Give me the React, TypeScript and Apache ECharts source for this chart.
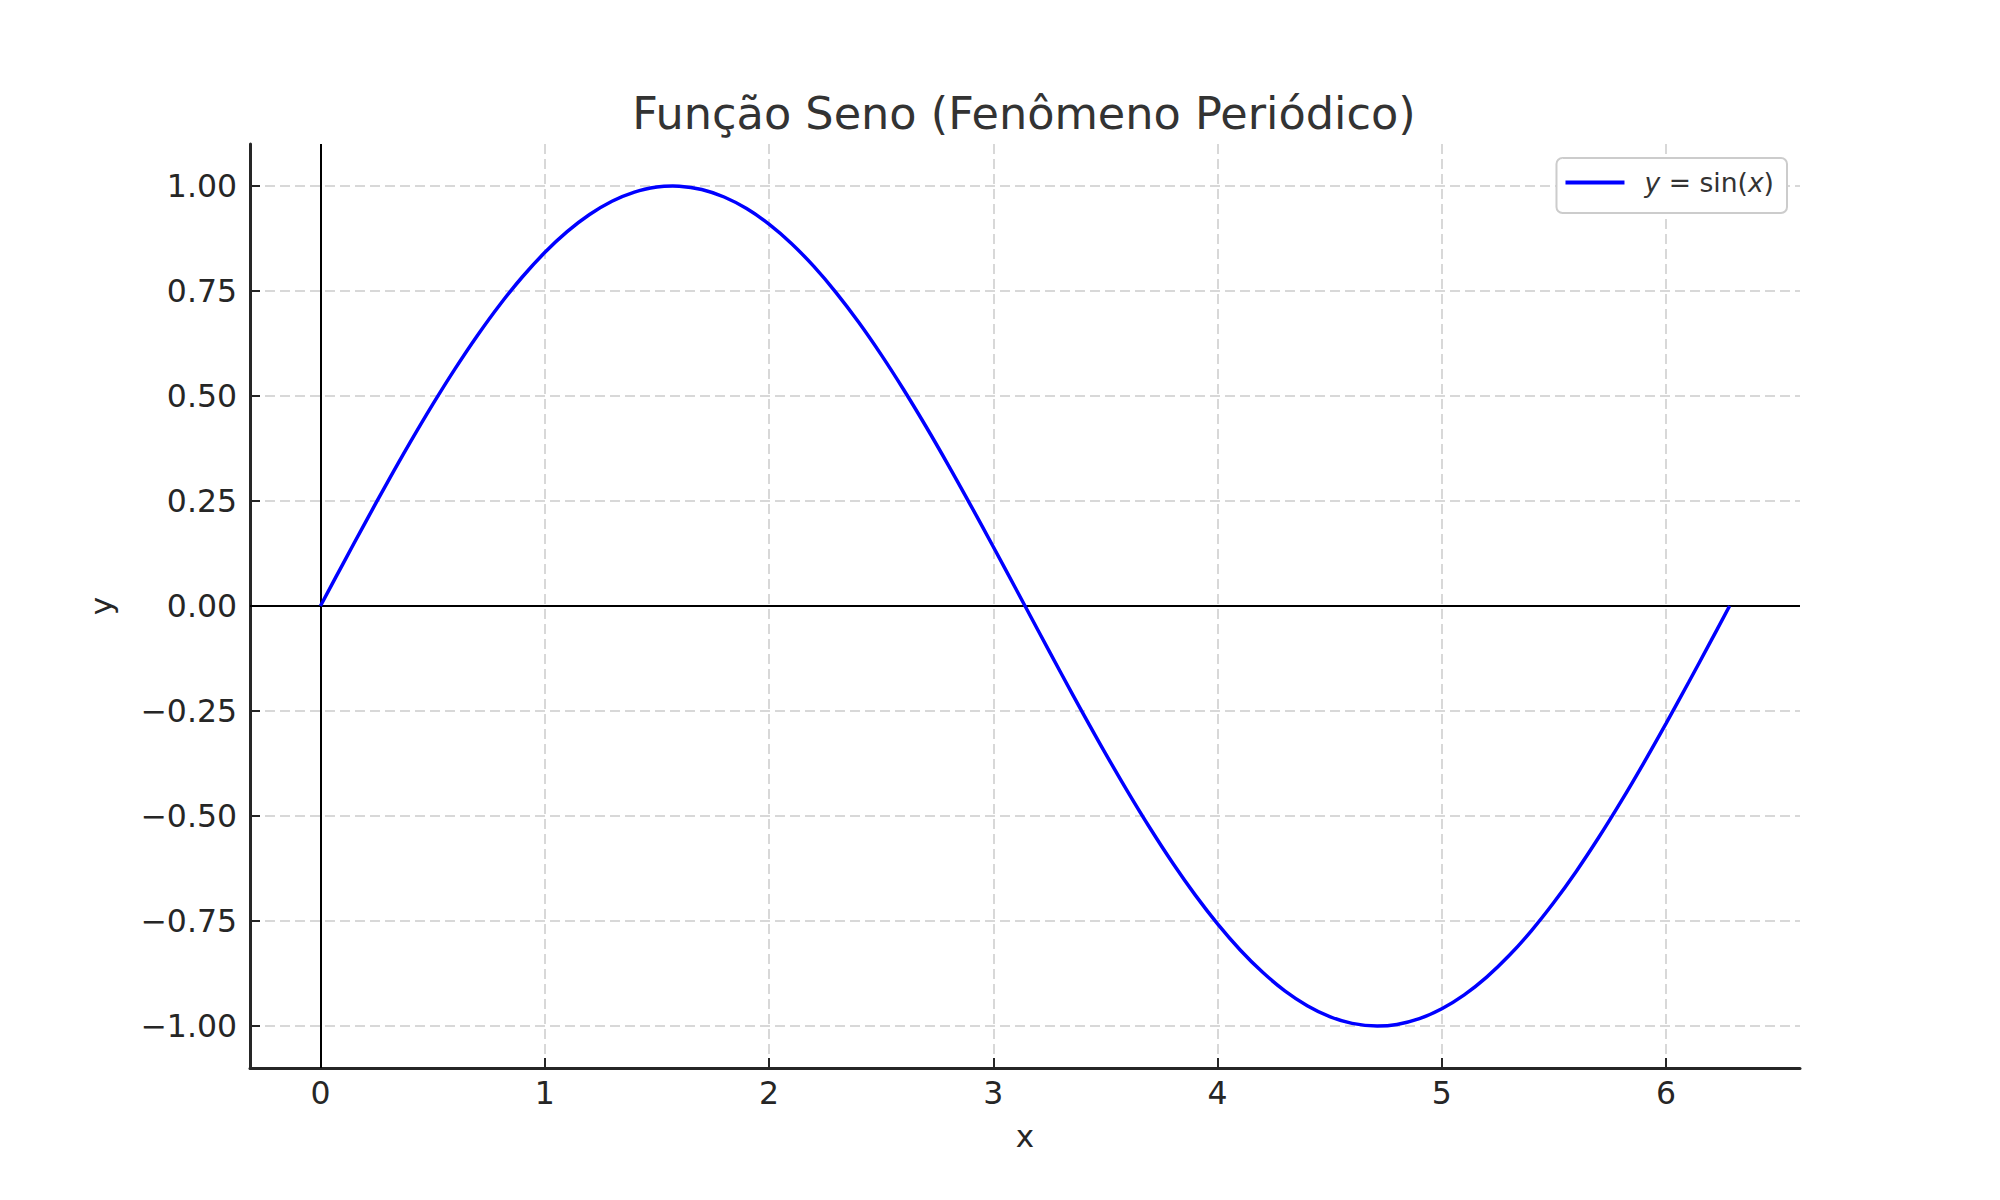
import React, { useEffect, useRef } from "react";
import * as echarts from "echarts";

const titleText = "Função Seno (Fenômeno Periódico)";
const xTicks = [0, 1, 2, 3, 4, 5, 6];
const yTicks = [-1, -0.75, -0.5, -0.25, 0, 0.25, 0.5, 0.75, 1];
const xValues = [
  0, 0.1, 0.2, 0.3, 0.4, 0.5, 0.6, 0.7, 0.8, 0.9, 1.0, 1.1, 1.2, 1.3, 1.4, 1.5, 1.571, 1.6, 1.7, 1.8, 1.9,
  2.0, 2.1, 2.2, 2.3, 2.4, 2.5, 2.6, 2.7, 2.8, 2.9, 3.0, 3.1, 3.2, 3.3, 3.4, 3.5, 3.6, 3.7, 3.8, 3.9,
  4.0, 4.1, 4.2, 4.3, 4.4, 4.5, 4.6, 4.712, 4.8, 4.9, 5.0, 5.1, 5.2, 5.3, 5.4, 5.5, 5.6, 5.7, 5.8, 5.9,
  6.0, 6.1, 6.2, 6.283,
];
const yValues = [
  0, 0.0998, 0.1987, 0.2955, 0.3894, 0.4794, 0.5646, 0.6442, 0.7174, 0.7833, 0.8415, 0.8912, 0.932, 0.9636,
  0.9854, 0.9975, 1.0, 0.9996, 0.9917, 0.9738, 0.9463, 0.9093, 0.8632, 0.8085, 0.7457, 0.6755, 0.5985,
  0.5155, 0.4274, 0.335, 0.2392, 0.1411, 0.0416, -0.0584, -0.1577, -0.2555, -0.3508, -0.4425, -0.5298,
  -0.6119, -0.6878, -0.7568, -0.8183, -0.8716, -0.9162, -0.9516, -0.9775, -0.9937, -1.0, -0.9962, -0.9825,
  -0.9589, -0.9258, -0.8835, -0.8323, -0.7728, -0.7055, -0.6313, -0.5507, -0.4646, -0.3739, -0.2794,
  -0.1822, -0.0831, 0,
];
const xMin = -0.314;
const xMax = 6.597;
const yMin = -1.1;
const yMax = 1.1;

const FONT = "DejaVu Sans";
const DARK = "#262626";

export default function App() {
  const ref = useRef<HTMLDivElement>(null);
  useEffect(() => {
    if (!ref.current) return;
    const chart = echarts.init(ref.current, null, { renderer: "svg" });
    const data = xValues.map((x, i) => [x, yValues[i]]);
    chart.setOption({
      animation: false,
      backgroundColor: "#ffffff",
      textStyle: { fontFamily: FONT },
      title: {
        text: titleText,
        left: 1019,
        textAlign: "center",
        top: 86,
        textStyle: { fontFamily: FONT, fontSize: 44.6, fontWeight: "normal", color: "#333333" },
      },
      legend: {
        right: 213,
        top: 158,
        orient: "vertical",
        backgroundColor: "#ffffff",
        borderColor: "#cccccc",
        borderWidth: 2,
        borderRadius: 6,
        padding: [11, 13, 17, 9],
        icon: "rect",
        itemWidth: 59,
        itemHeight: 4,
        formatter: () => "{i|y} = sin({i|x})",
        textStyle: {
          fontFamily: FONT,
          fontSize: 26.6,
          color: "#333333",
          padding: [0, 0, 0, 15],
          rich: {
            i: { fontFamily: FONT, fontSize: 26.6, fontStyle: "italic", color: "#333333" },
          },
        },
        data: ["sin"],
      },
      grid: { left: 250, right: 200, top: 144, bottom: 132, containLabel: false },
      xAxis: {
        type: "value",
        min: xMin,
        max: xMax,
        name: "x",
        nameLocation: "middle",
        nameGap: 52,
        nameTextStyle: { fontFamily: FONT, fontSize: 31, color: DARK },
        axisLine: { show: true, onZero: false, lineStyle: { color: DARK, width: 3 } },
        axisTick: { show: true, inside: true, length: 10, customValues: xTicks, lineStyle: { color: DARK, width: 2 } },
        axisLabel: {
          customValues: xTicks,
          margin: 9,
          fontFamily: FONT,
          fontSize: 31.5,
          color: DARK,
          formatter: (v: number) => String(v),
        },
        splitLine: { show: true, lineStyle: { color: "#cccccc", width: 1.5, type: [10, 5] } },
      },
      yAxis: {
        type: "value",
        min: yMin,
        max: yMax,
        name: "y",
        nameLocation: "middle",
        nameGap: 134,
        nameRotate: 90,
        nameTextStyle: { fontFamily: FONT, fontSize: 31, color: DARK },
        axisLine: { show: true, onZero: false, lineStyle: { color: DARK, width: 3 } },
        axisTick: { show: true, inside: true, length: 10, customValues: yTicks, lineStyle: { color: DARK, width: 2 } },
        axisLabel: {
          customValues: yTicks,
          margin: 13,
          fontFamily: FONT,
          fontSize: 31.5,
          color: DARK,
          formatter: (v: number) => v.toFixed(2).replace("-", "\u2212"),
        },
        splitLine: { show: true, lineStyle: { color: "#cccccc", width: 1.5, type: [10, 5] } },
      },
      series: [
        {
          name: "sin",
          type: "line",
          data,
          showSymbol: false,
          symbol: "none",
          smooth: 0.4,
          color: "#0000ff",
          lineStyle: { color: "#0000ff", width: 3.5 },
          z: 3,
          markLine: {
            silent: true,
            symbol: "none",
            label: { show: false },
            lineStyle: { color: "#000000", width: 2, type: "solid" },
            data: [{ xAxis: 0 }, { yAxis: 0 }],
            z: 2,
          },
        },
      ],
    });
    return () => chart.dispose();
  }, []);
  return (
    <div
      ref={ref}
      style={{ position: "fixed", left: 0, top: 0, width: 2000, height: 1200, background: "#fff" }}
    />
  );
}
